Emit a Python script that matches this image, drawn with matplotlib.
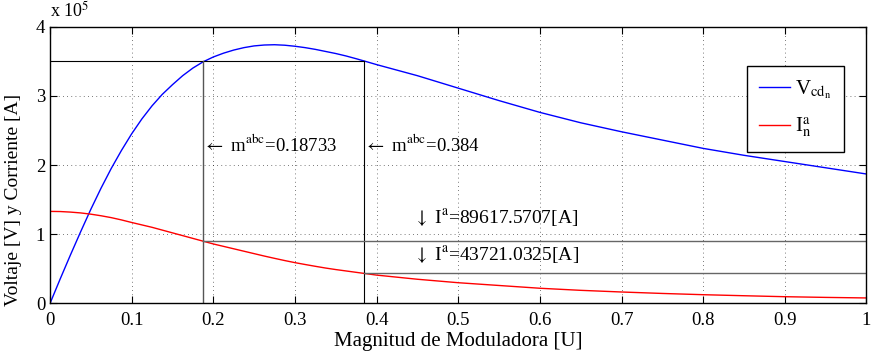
import numpy as np
from matplotlib import pyplot as plt

# Magnitud de moduladora (eje x)
m = [0, 0.0125, 0.025, 0.0375, 0.05, 0.0625, 0.075, 0.0875, 0.1, 0.1125, 0.125,
     0.1375, 0.15, 0.1625, 0.175, 0.1875, 0.2, 0.2125, 0.225, 0.2375, 0.25, 0.2625,
     0.275, 0.2875, 0.3, 0.3125, 0.325, 0.3375, 0.35, 0.3625, 0.375, 0.3875, 0.4,
     0.45, 0.5, 0.55, 0.6, 0.65, 0.7, 0.75, 0.8, 0.85, 0.9, 0.95, 1.0]

# Vcd_n  [x 1e5 V]
vcd = [0, 0.355, 0.70, 1.035, 1.36, 1.665, 1.95, 2.21, 2.45, 2.665, 2.855,
       3.02, 3.16, 3.29, 3.40, 3.49, 3.56, 3.615, 3.66, 3.695, 3.72, 3.733,
       3.737, 3.73, 3.715, 3.695, 3.67, 3.64, 3.61, 3.575, 3.535, 3.493, 3.45,
       3.29, 3.11, 2.93, 2.76, 2.61, 2.48, 2.36, 2.24, 2.14, 2.05, 1.96, 1.87]

# I^a_n  [x 1e5 A]
ia = [1.33, 1.328, 1.32, 1.308, 1.29, 1.267, 1.24, 1.207, 1.17, 1.135, 1.10,
      1.06, 1.02, 0.98, 0.94, 0.90, 0.86, 0.825, 0.79, 0.755, 0.72, 0.685,
      0.652, 0.62, 0.59, 0.563, 0.537, 0.512, 0.49, 0.47, 0.45, 0.43, 0.41,
      0.35, 0.30, 0.26, 0.22, 0.19, 0.166, 0.145, 0.127, 0.112, 0.098, 0.088, 0.08]

m_marks = [0.18733, 0.384]
v_ref = 3.5
i_marks = [0.896175707, 0.437210325]
i_labels = ['89617.5707', '43721.0325']

plt.rcParams['font.family'] = ['Liberation Serif', 'DejaVu Serif']
plt.rcParams['mathtext.fontset'] = 'stix'

fig = plt.figure(figsize=(8.71, 3.56), dpi=100)
ax = fig.add_axes([0.0574, 0.1475, 0.9374, 0.778])

ax.plot(m, vcd, color='blue', lw=1.0, label=r'V$_{\mathrm{cd}_{\mathrm{n}}}$')
ax.plot(m, ia, color='red', lw=1.0, label=r'I$^{\mathrm{a}}_{\mathrm{n}}$')

# lineas de referencia
ax.plot([0, m_marks[1]], [v_ref, v_ref], color='black', lw=0.8)
ax.plot([m_marks[0], m_marks[0]], [0, v_ref], color='#555555', lw=1.0)
ax.plot([m_marks[1], m_marks[1]], [0, v_ref], color='black', lw=0.8)
ax.plot([m_marks[0], 1], [i_marks[0], i_marks[0]], color='#666666', lw=1.0)
ax.plot([m_marks[1], 1], [i_marks[1], i_marks[1]], color='#666666', lw=1.0)

for mk in m_marks:
    ax.text(mk, 2.29, r'$\leftarrow$ m$^{\mathrm{abc}}$=' + f'{mk:g}', fontsize=13.5,
            va='center', ha='left')
ax.text(0.446, 1.24, r'$\downarrow$ I$^{\mathrm{a}}$=' + i_labels[0] + '[A]', fontsize=14,
        va='center', ha='left')
ax.text(0.446, 0.70, r'$\downarrow$ I$^{\mathrm{a}}$=' + i_labels[1] + '[A]', fontsize=14,
        va='center', ha='left')

ax.set_xlim(0, 1)
ax.set_ylim(0, 4)
ax.set_xticks(np.arange(0, 1.01, 0.1))
ax.set_xticklabels(['0', '0.1', '0.2', '0.3', '0.4', '0.5', '0.6', '0.7', '0.8', '0.9', '1'])
ax.set_yticks([0, 1, 2, 3, 4])
ax.tick_params(direction='in', top=True, right=True, labelsize=13.5, length=5, width=0.8)
ax.tick_params(axis='x', pad=6)
ax.grid(True, linestyle=(0, (1, 4)), color='black', lw=0.6, alpha=0.7)
for s in ax.spines.values():
    s.set_linewidth(1.0)

ax.text(0.0, 1.02, r'x 10$^5$', transform=ax.transAxes, fontsize=13, va='bottom')

ax.set_xlabel('Magnitud de Moduladora [U]', fontsize=15, labelpad=2)
ax.set_ylabel('Voltaje [V] y Corriente [A]', fontsize=14)
ax.yaxis.set_label_coords(-0.034, 0.375)

leg = ax.legend(loc='upper right', bbox_to_anchor=(0.973, 0.857), fontsize=15,
                fancybox=False, framealpha=1, edgecolor='black', handlelength=1.5,
                handletextpad=0.25, labelspacing=0.7, borderpad=0.6, borderaxespad=0)
leg.get_frame().set_linewidth(1.0)

fig.savefig('out.png', dpi=100)
